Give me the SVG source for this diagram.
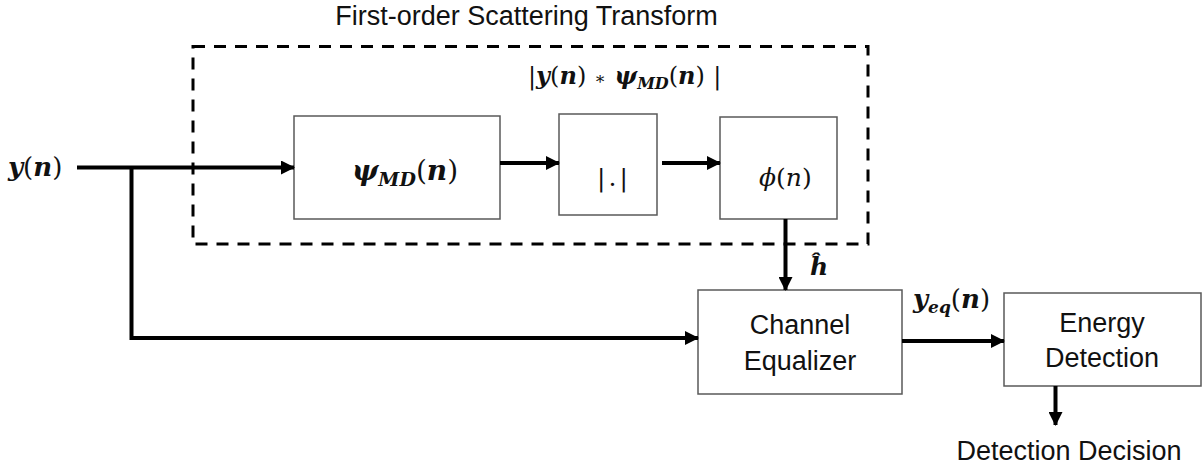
<svg xmlns="http://www.w3.org/2000/svg" width="1203" height="469" viewBox="0 0 1203 469">
<style>
.box{fill:#fff;stroke:#595959;stroke-width:1.5}
.wire{fill:none;stroke:#000;stroke-width:4}
.sans{font-family:"Liberation Sans",Arial,sans-serif;font-size:27px;fill:#111}
.math{font-family:"DejaVu Serif","Liberation Serif",serif;font-weight:bold;font-style:italic;fill:#111}
.mathr{font-family:"DejaVu Serif","Liberation Serif",serif;fill:#111}
.p{font-style:normal;font-weight:normal}
</style>
<defs>
<marker id="arr" markerUnits="userSpaceOnUse" markerWidth="14" markerHeight="14" refX="13" refY="7" orient="auto">
<path d="M0,0 L14,7 L0,14 z" fill="#000"/>
</marker>
</defs>
<rect width="1203" height="469" fill="#fff"/>
<g id="scattering-group">
<rect x="193" y="46.5" width="675" height="197.5" fill="none" stroke="#000" stroke-width="3" stroke-dasharray="12 9"/>
<text class="sans" x="526.5" y="25" text-anchor="middle">First-order Scattering Transform</text>
<text class="math" x="528" y="84" font-size="24"><tspan class="p">|</tspan>y<tspan class="p">(</tspan>n<tspan class="p">)</tspan> <tspan class="p" font-size="17">∗</tspan>  ψ<tspan font-size="16" dy="5">MD</tspan><tspan dy="-5" class="p">(</tspan>n<tspan class="p">)</tspan> <tspan class="p">|</tspan></text>
</g>
<g id="input-label">
<text class="math" x="8" y="176" font-size="26">y<tspan class="p">(</tspan>n<tspan class="p">)</tspan></text>
</g>
<g id="node-psi">
<rect class="box" x="294" y="116" width="206" height="103"/>
<text class="math" x="352" y="180" font-size="28">ψ<tspan font-size="19" dy="6">MD</tspan><tspan dy="-6" class="p">(</tspan>n<tspan class="p">)</tspan></text>
</g>
<g id="node-abs">
<rect class="box" x="559" y="114" width="98" height="101"/>
<text class="mathr" x="614" y="186" font-size="25" text-anchor="middle" letter-spacing="3">|.|</text>
</g>
<g id="node-phi">
<rect class="box" x="720" y="117" width="117" height="102"/>
<text class="mathr" x="759" y="186" font-size="25"><tspan font-style="italic">ϕ</tspan>(<tspan font-style="italic">n</tspan>)</text>
</g>
<g id="node-equalizer">
<rect class="box" x="698" y="290" width="204" height="104"/>
<text class="sans" x="800" y="334" text-anchor="middle">Channel</text>
<text class="sans" x="800" y="370" text-anchor="middle">Equalizer</text>
</g>
<g id="node-energy">
<rect class="box" x="1004" y="293" width="197" height="93"/>
<text class="sans" x="1102" y="332" text-anchor="middle">Energy</text>
<text class="sans" x="1102" y="367" text-anchor="middle">Detection</text>
</g>
<g id="output-label">
<text class="sans" x="1069" y="460" text-anchor="middle">Detection Decision</text>
</g>
<g id="connectors">
<path class="wire" d="M77,167.5 H294" marker-end="url(#arr)"/>
<path class="wire" d="M131.5,167.5 V338 H698" marker-end="url(#arr)"/>
<path class="wire" d="M500,163 H559" marker-end="url(#arr)"/>
<path class="wire" d="M662,163 H720" marker-end="url(#arr)"/>
<path class="wire" d="M785.5,219 V290" marker-end="url(#arr)"/>
<path class="wire" d="M902,341 H1004" marker-end="url(#arr)"/>
<path class="wire" d="M1055.5,386 V425" marker-end="url(#arr)"/>
<text class="math" x="810" y="275" font-size="25">ĥ</text>
<text class="math" x="913" y="308" font-size="26">y<tspan font-size="17" dy="5">eq</tspan><tspan dy="-5" class="p">(</tspan>n<tspan class="p">)</tspan></text>
</g>
</svg>
